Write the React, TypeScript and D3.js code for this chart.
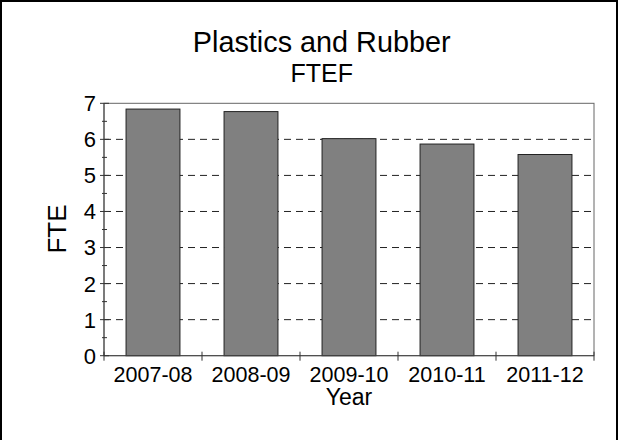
import React from "react";
import * as d3 from "d3";

const categories = ["2007-08", "2008-09", "2009-10", "2010-11", "2011-12"];
const values = [6.84, 6.77, 6.02, 5.87, 5.58];
const yTicks = [0, 1, 2, 3, 4, 5, 6, 7];
const yMinor = [0.5, 1.5, 2.5, 3.5, 4.5, 5.5, 6.5];
const gridValues = [1, 2, 3, 4, 5, 6];
const titleLines = ["Plastics and Rubber", "FTEF"];
const xTitle = "Year";
const yTitle = "FTE";

export default function App() {
  const W = 619, H = 440;
  const left = 104, right = 594, top = 103.3, bottom = 355.7;
  const x = d3.scaleBand<string>().domain(categories).range([left, right]).paddingInner(0.45).paddingOuter(0.225);
  const xb = d3.scaleBand<string>().domain(categories).range([left, right]);
  const y = d3.scaleLinear().domain([0, 7]).range([bottom, top]);
  const font = "'Liberation Sans', Arial, Helvetica, sans-serif";
  const boundaries = [...categories.map((c) => xb(c) as number), right];
  return (
    <svg width={W} height={H} style={{ position: "absolute", left: 0, top: 0, background: "#fff" }} fontFamily={font}>
      <rect x={1} y={1} width={616} height={H + 10} fill="none" stroke="#000" strokeWidth={2} />
      <text x={321.7} y={52} textAnchor="middle" fontSize={28.8} fill="#000">{titleLines[0]}</text>
      <text x={321.7} y={81.5} textAnchor="middle" fontSize={25} fill="#000">{titleLines[1]}</text>
      {/* grid */}
      {gridValues.map((v) => (
        <line key={v} x1={left} x2={right} y1={y(v)} y2={y(v)} stroke="#222" strokeWidth={1} strokeDasharray="7,5" />
      ))}
      {/* plot frame */}
      <rect x={left} y={top} width={right - left} height={bottom - top} fill="none" stroke="#666" strokeWidth={1} />
      {/* bars */}
      {categories.map((c, i) => (
        <rect key={c} x={x(c)} y={y(values[i])} width={x.bandwidth()} height={bottom - y(values[i])} fill="#808080" stroke="#222" strokeWidth={1} />
      ))}
      {/* axes */}
      <line x1={left} x2={left} y1={top} y2={bottom} stroke="#444" />
      <line x1={left} x2={right} y1={bottom} y2={bottom} stroke="#444" />
      {yTicks.map((t) => (
        <g key={t}>
          <line x1={left - 4} x2={left + 5} y1={y(t)} y2={y(t)} stroke="#333" />
          <text x={96} y={y(t)} dy="0.36em" textAnchor="end" fontSize={22} fill="#000">{t}</text>
        </g>
      ))}
      {yMinor.map((t) => (
        <line key={t} x1={left - 2} x2={left + 3} y1={y(t)} y2={y(t)} stroke="#333" />
      ))}
      {boundaries.map((b, i) => (
        <line key={i} x1={b} x2={b} y1={bottom - 4} y2={bottom + 5} stroke="#333" />
      ))}
      {categories.map((c) => (
        <text key={c} x={(x(c) as number) + x.bandwidth() / 2} y={381.5} textAnchor="middle" fontSize={21.5} fill="#000">{c}</text>
      ))}
      <text x={349} y={405} textAnchor="middle" fontSize={23} fill="#000">{xTitle}</text>
      <text transform={`translate(66,229) rotate(-90)`} textAnchor="middle" fontSize={26} fill="#000">{yTitle}</text>
    </svg>
  );
}
